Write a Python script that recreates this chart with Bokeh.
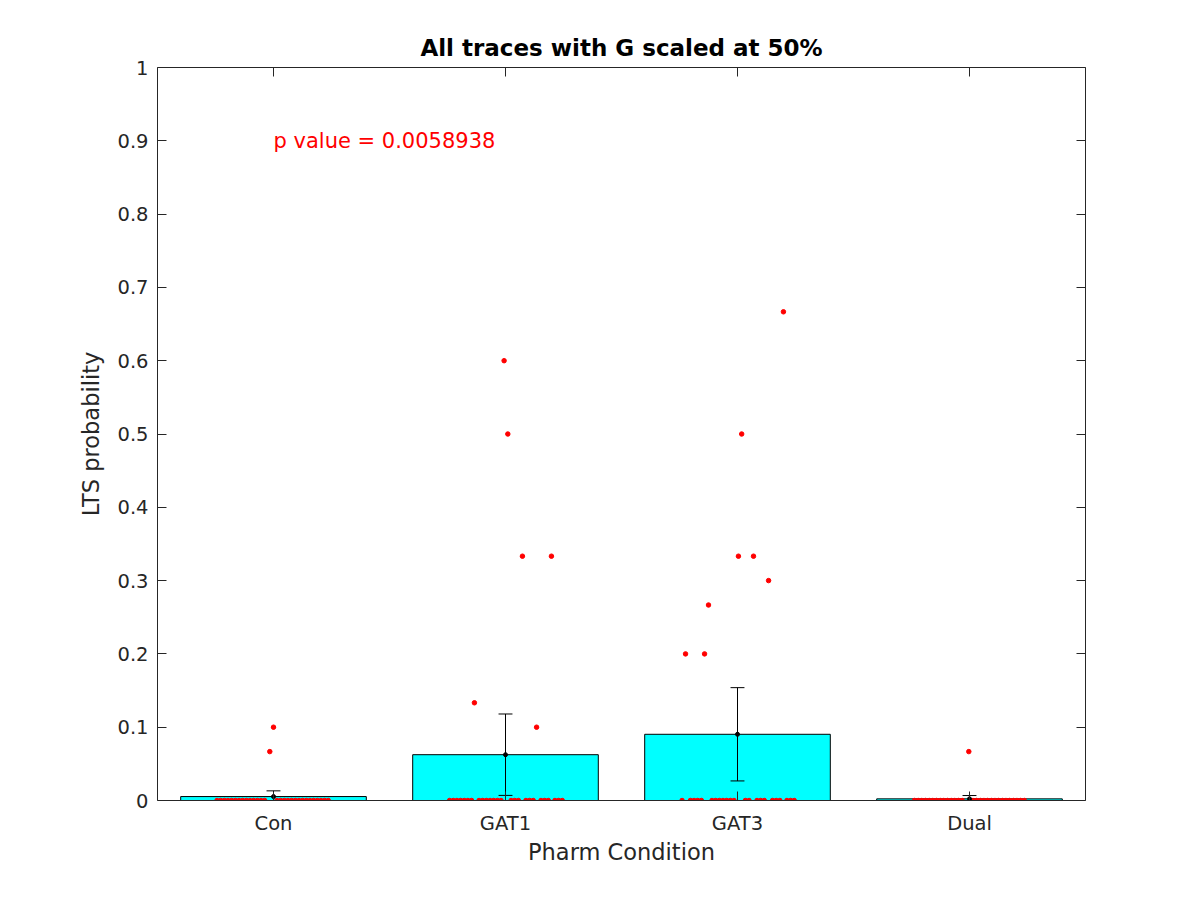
import numpy as np
from bokeh.plotting import figure
from bokeh.models import (FixedTicker, LinearAxis, Label, ColumnDataSource, Range1d,
                          NumeralTickFormatter, CustomJSTickFormatter)
from bokeh.embed import file_html
from bokeh.resources import INLINE

# ---------------- data ----------------
categories = ["Con", "GAT1", "GAT3", "Dual"]

# non-zero LTS probabilities per condition and their swarm x-offsets
con_vals = [0.1, 0.0667]
con_jit = [0.0, -0.016]
gat1_vals = [0.6, 0.5, 0.3333, 0.3333, 0.1333, 0.1]
gat1_jit = [-0.006, 0.010, 0.073, 0.198, -0.134, 0.134]
gat3_vals = [0.6667, 0.5, 0.3333, 0.3333, 0.3, 0.2667, 0.2, 0.2]
gat3_jit = [0.198, 0.018, 0.004, 0.069, 0.134, -0.125, -0.224, -0.142]
dual_vals = [0.0667]
dual_jit = [-0.003]

# zero-valued traces as swarm runs: (start offset, number of traces)
con_zero_runs = [(-0.2435, 14), (0.015, 15)]
gat1_zero_runs = [(-0.241, 7), (-0.114, 7), (0.024, 3), (0.088, 3), (0.153, 3), (0.213, 3)]
gat3_zero_runs = [(-0.239, 1), (-0.203, 4), (-0.110, 7), (0.034, 2), (0.084, 3), (0.151, 3), (0.213, 3)]
dual_zero_runs = [(-0.237, 14), (0.015, 15)]

p_value_text = "p value = 0.0058938"
t_crit = 2.04  # 95% CI multiplier

y_ticks = [0, 0.1, 0.2, 0.3, 0.4, 0.5, 0.6, 0.7, 0.8, 0.9, 1]

# ---------------- derived ----------------
groups = [
    (con_vals, con_jit, con_zero_runs),
    (gat1_vals, gat1_jit, gat1_zero_runs),
    (gat3_vals, gat3_jit, gat3_zero_runs),
    (dual_vals, dual_jit, dual_zero_runs),
]
swarm_step = 0.0158

pt_x, pt_y = [], []
means, los, his = [], [], []
xs = list(range(1, len(categories) + 1))
for xc, (vals, jit, runs) in zip(xs, groups):
    allv = list(vals)
    for v, j in zip(vals, jit):
        pt_x.append(xc + j)
        pt_y.append(v)
    for start, n in runs:
        for k in range(n):
            pt_x.append(xc + start + k * swarm_step)
            pt_y.append(0.0)
            allv.append(0.0)
    a = np.array(allv)
    m = a.mean()
    ci = t_crit * a.std(ddof=1) / np.sqrt(len(a))
    means.append(m)
    los.append(m - ci)
    his.append(m + ci)

FONT = "DejaVu Sans"
AX = "#262626"

p = figure(width=1200, height=900, output_backend="svg", toolbar_location=None,
           x_range=Range1d(0.5, 4.5), y_range=Range1d(0, 1),
           min_border_left=157, min_border_right=115, min_border_top=67, min_border_bottom=100,
           title="All traces with G scaled at 50%")
p.outline_line_color = None
p.background_fill_color = "white"
p.border_fill_color = "white"
p.xgrid.visible = False
p.ygrid.visible = False

p.title.align = "center"
p.title.text_font = FONT
p.title.text_font_size = "23px"
p.title.text_font_style = "bold"
p.title.text_color = "black"
p.title.standoff = 13

bar_src = ColumnDataSource(dict(x=xs, top=means))
p.vbar(x="x", top="top", width=0.8, bottom=0, source=bar_src,
       fill_color="#00FFFF", line_color="black", line_width=1)

p.scatter(pt_x, pt_y, size=4.5, marker="circle", fill_color="#FF0000", line_color="#FF0000")

# error bars (95% CI)
cap = 0.03
p.segment(x0=xs, y0=los, x1=xs, y1=his, line_color="black", line_width=1)
p.segment(x0=[x - cap for x in xs], y0=his, x1=[x + cap for x in xs], y1=his, line_color="black", line_width=1)
p.segment(x0=[x - cap for x in xs], y0=los, x1=[x + cap for x in xs], y1=los, line_color="black", line_width=1)
p.scatter(xs, means, size=4, marker="circle", fill_color="black", line_color="black")

p.add_layout(Label(x=1, y=0.9, text=p_value_text, text_color="#FF0000", text_font=FONT,
                   text_font_size="21px", text_align="left", text_baseline="middle"))

def style_axis(ax, show_labels):
    ax.axis_line_color = AX
    ax.axis_line_width = 1
    ax.major_tick_line_color = AX
    ax.major_tick_in = 9
    ax.major_tick_out = 0
    ax.minor_tick_line_color = None
    ax.major_label_text_font = FONT
    ax.major_label_text_font_size = "19.5px"
    ax.major_label_text_color = AX
    ax.axis_label_text_font = FONT
    ax.axis_label_text_font_size = "22.5px"
    ax.axis_label_text_font_style = "normal"
    ax.axis_label_text_color = AX
    if not show_labels:
        ax.major_label_text_font_size = "0px"
        ax.formatter = CustomJSTickFormatter(code="return ''")

xt = FixedTicker(ticks=xs)
yt = FixedTicker(ticks=y_ticks)

xa = p.xaxis[0]
xa.ticker = xt
xa.major_label_overrides = {i + 1: c for i, c in enumerate(categories)}
xa.axis_label = "Pharm Condition"
style_axis(xa, True)
xa.major_label_standoff = 11
xa.axis_label_standoff = 1

ya = p.yaxis[0]
ya.ticker = yt
ya.formatter = NumeralTickFormatter(format="0.[0]")
ya.axis_label = "LTS probability"
style_axis(ya, True)
ya.major_label_standoff = 9
ya.axis_label_standoff = 10

ra = LinearAxis(ticker=FixedTicker(ticks=y_ticks))
style_axis(ra, False)
p.add_layout(ra, "right")
ta = LinearAxis(ticker=FixedTicker(ticks=xs))
style_axis(ta, False)
p.add_layout(ta, "above")

open("out.html", "w").write(file_html(p, INLINE))
